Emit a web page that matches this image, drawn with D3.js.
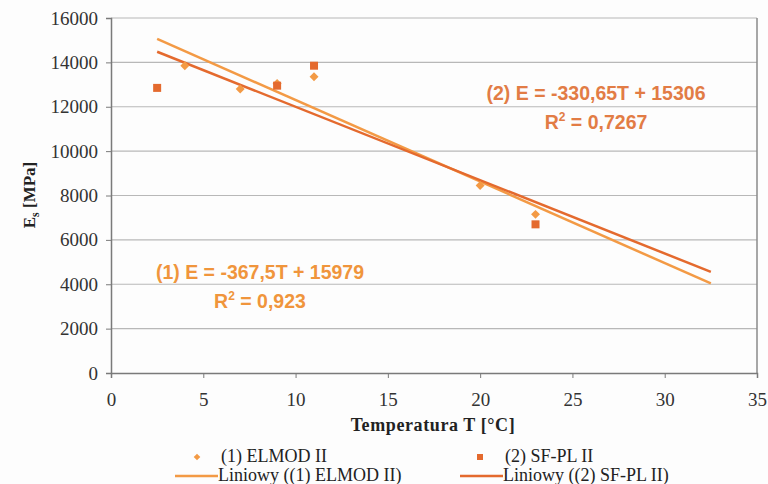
<!DOCTYPE html>
<html>
<head>
<meta charset="utf-8">
<style>
  body { margin: 0; background: #fdfdfd; }
  svg { display: block; }
  .tick text { font-family: "Liberation Serif", "Times New Roman", serif; font-size: 19px; fill: #333; }
</style>
</head>
<body>
<svg width="768" height="484"></svg>
<script src="https://d3js.org/d3.v7.min.js"></script>
<script>
// series 1: ELMOD II (diamonds)
var elmodT = [4, 7, 9, 11, 20, 23];
var elmodE = [13850, 12800, 13050, 13350, 8450, 7150];
// series 2: SF-PL II (squares)
var sfplT = [2.5, 9, 11, 23];
var sfplE = [12850, 12950, 13850, 6700];
// trend lines (slope, intercept) as printed on the chart, drawn over T range
var trendRange = [2.5, 32.5];
var trend1 = [-367.5, 15979];
var trend2 = [-330.65, 15306];

var xTicks = [0, 5, 10, 15, 20, 25, 30, 35];
var yTicks = [0, 2000, 4000, 6000, 8000, 10000, 12000, 14000, 16000];

var col1 = "#f39a45", col2 = "#e46a2e";

var svg = d3.select("svg"),
    pLeft = 111, pRight = 757, pTop = 18, pBottom = 373;

var x = d3.scaleLinear().domain([0, 35]).range([pLeft, pRight]);
var y = d3.scaleLinear().domain([0, 16000]).range([pBottom, pTop]);

// grid
svg.append("g").selectAll("line")
    .data(yTicks.slice(1))
    .enter().append("line")
    .attr("x1", pLeft).attr("x2", pRight)
    .attr("y1", function(d) { return y(d); })
    .attr("y2", function(d) { return y(d); })
    .attr("stroke", "#b8b8b8").attr("stroke-width", 1.2);

// frame right side
svg.append("line")
    .attr("x1", pRight).attr("x2", pRight).attr("y1", pTop).attr("y2", pBottom)
    .attr("stroke", "#8a8a8a").attr("stroke-width", 1.5);

// axes
var yAxis = svg.append("g")
    .attr("transform", "translate(" + pLeft + ",0)")
    .call(d3.axisLeft(y).tickValues(yTicks).tickSize(5).tickPadding(8).tickFormat(d3.format("d")));
var xAxis = svg.append("g")
    .attr("transform", "translate(0," + pBottom + ")")
    .call(d3.axisBottom(x).tickValues(xTicks).tickSize(5).tickPadding(15));
[xAxis, yAxis].forEach(function(a) {
  a.select(".domain").attr("stroke", "#7a7a7a").attr("stroke-width", 1.5);
  a.selectAll(".tick line").attr("stroke", "#7a7a7a");
});

// trend lines
function trendLine(c, color) {
  svg.append("path")
    .datum(trendRange)
    .attr("fill", "none")
    .attr("stroke", color)
    .attr("stroke-width", 2.5)
    .attr("d", d3.line()
      .x(function(t) { return x(t); })
      .y(function(t) { return y(c[0] * t + c[1]); }));
}
trendLine(trend1, col1);
trendLine(trend2, col2);

// points (diamond = square rotated 45deg)
var diamond = d3.symbol().type(d3.symbolSquare).size(40);
svg.append("g").selectAll("path")
    .data(d3.range(elmodT.length))
    .enter().append("path")
    .attr("d", diamond)
    .attr("transform", function(i) { return "translate(" + x(elmodT[i]) + "," + y(elmodE[i]) + ") rotate(45)"; })
    .attr("fill", col1);
svg.append("g").selectAll("rect")
    .data(d3.range(sfplT.length))
    .enter().append("rect")
    .attr("x", function(i) { return x(sfplT[i]) - 4; })
    .attr("y", function(i) { return y(sfplE[i]) - 4; })
    .attr("width", 8).attr("height", 8)
    .attr("fill", col2);

// equations
function equation(cx, by, l1, r2, color) {
  svg.append("text")
    .attr("x", cx).attr("y", by)
    .attr("text-anchor", "middle")
    .attr("font-family", "Liberation Sans, Arial, sans-serif")
    .attr("font-weight", "bold").attr("font-size", 19.5)
    .attr("fill", color)
    .text(l1);
  var r = svg.append("text")
    .attr("x", cx).attr("y", by + 29)
    .attr("text-anchor", "middle")
    .attr("font-family", "Liberation Sans, Arial, sans-serif")
    .attr("font-weight", "bold").attr("font-size", 19.5)
    .attr("fill", color);
  r.append("tspan").text("R");
  r.append("tspan").attr("font-size", 12).attr("dy", -8).text("2");
  r.append("tspan").attr("dy", 8).text(" = " + r2);
}
equation(260, 279, "(1) E = -367,5T + 15979", "0,923", "#f0953c");
equation(596, 100, "(2) E = -330,65T + 15306", "0,7267", "#e27c45");

// axis titles
svg.append("text")
  .attr("x", 433).attr("y", 431)
  .attr("text-anchor", "middle")
  .attr("font-family", "Liberation Serif, Times New Roman, serif")
  .attr("font-weight", "bold").attr("font-size", 18)
  .attr("letter-spacing", 0.6)
  .attr("fill", "#222")
  .text("Temperatura T [\u00B0C]");

var yt = svg.append("text")
  .attr("transform", "translate(35,195) rotate(-90)")
  .attr("text-anchor", "middle")
  .attr("font-family", "Liberation Serif, Times New Roman, serif")
  .attr("font-weight", "bold").attr("font-size", 17)
  .attr("fill", "#222");
yt.append("tspan").text("E");
yt.append("tspan").attr("font-size", 12).attr("dy", 4).text("s");
yt.append("tspan").attr("dy", -4).text(" [MPa]");

// legend
var legFont = "Liberation Serif, Times New Roman, serif";
svg.append("path").attr("d", d3.symbol().type(d3.symbolSquare).size(22))
  .attr("transform", "translate(197,457) rotate(45)").attr("fill", col1);
svg.append("rect").attr("x", 477).attr("y", 454).attr("width", 6).attr("height", 6).attr("fill", col2);
svg.append("line").attr("x1", 175).attr("x2", 218).attr("y1", 476).attr("y2", 476)
  .attr("stroke", col1).attr("stroke-width", 2.5);
svg.append("line").attr("x1", 460).attr("x2", 503).attr("y1", 476).attr("y2", 476)
  .attr("stroke", col2).attr("stroke-width", 2.5);
var legTexts = [
  [221, 462, "(1) ELMOD II"],
  [505, 462, "(2) SF-PL II"],
  [218, 481, "Liniowy ((1) ELMOD II)"],
  [503, 481, "Liniowy ((2) SF-PL II)"]
];
svg.append("g").selectAll("text")
  .data(legTexts)
  .enter().append("text")
  .attr("x", function(d) { return d[0]; })
  .attr("y", function(d) { return d[1]; })
  .attr("font-family", legFont).attr("font-size", 18)
  .attr("fill", "#222")
  .text(function(d) { return d[2]; });
</script>
</body>
</html>
